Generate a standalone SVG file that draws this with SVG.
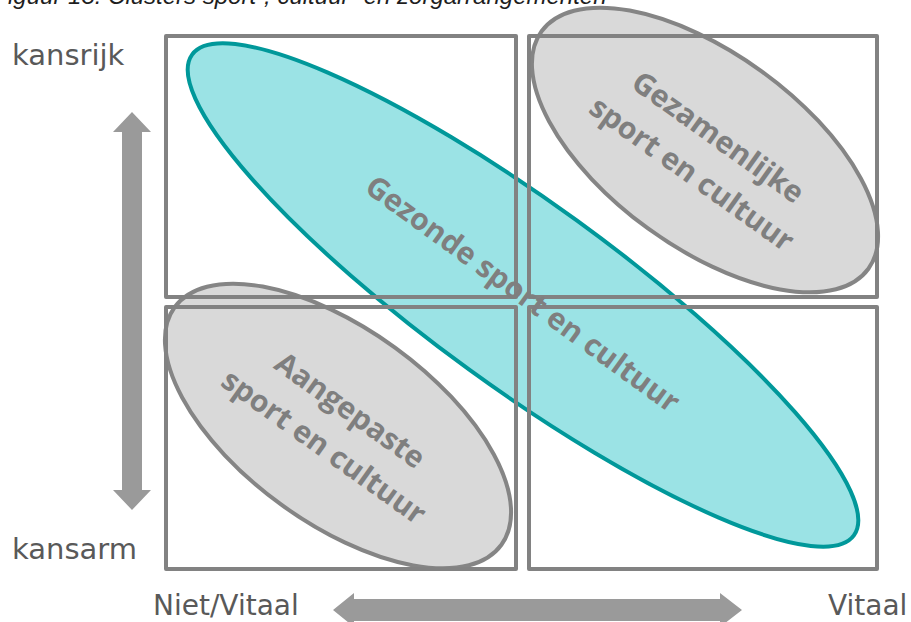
<svg xmlns="http://www.w3.org/2000/svg" width="911" height="622" viewBox="0 0 911 622">
  <style>
    .box { fill: none; stroke: #828282; stroke-width: 4; stroke-linejoin: round; }
    .grayell { fill: #d9d9d9; stroke: #858585; stroke-width: 4; }
    .cyanell { fill: #9be3e5; stroke: #00989a; stroke-width: 4; }
    .lbl { font-family: "Open Sans", "Noto Sans", sans-serif; font-weight: bold; font-size: 30px; fill: #7f7f7f; text-anchor: middle; }
    .axis { font-family: "DejaVu Sans", sans-serif; font-size: 29px; fill: #595959; }
    .axisb { font-family: "DejaVu Sans", sans-serif; font-size: 28px; fill: #595959; }
    .arrow { fill: #9a9a9a; }
    .caption { font-family: "Liberation Sans", Arial, sans-serif; font-style: italic; font-size: 24px; fill: #1e1e1e; }
  </style>
  <rect width="911" height="622" fill="#ffffff"/>

  <text class="caption" x="8" y="4">iguur 13: Clusters sport-, cultuur- en zorgarrangementen</text>

  <g id="ellipse-gezonde">
    <ellipse class="cyanell" cx="523" cy="295" rx="409" ry="92" transform="rotate(36 523 295)"/>
  </g>
  <g id="ellipse-gezamenlijke">
    <ellipse class="grayell" cx="705" cy="150" rx="202" ry="97" transform="rotate(36 705 150)"/>
  </g>
  <g id="ellipse-aangepaste">
    <ellipse class="grayell" cx="338" cy="426" rx="202" ry="97" transform="rotate(36 338 426)"/>
  </g>

  <g id="quadrants">
    <rect id="q-top-left" class="box" x="166" y="36" width="350" height="261"/>
    <rect id="q-top-right" class="box" x="529" y="36" width="348" height="261"/>
    <rect id="q-bottom-left" class="box" x="166" y="307" width="350" height="262"/>
    <rect id="q-bottom-right" class="box" x="529" y="307" width="348" height="262"/>
  </g>

  <g id="label-gezonde" transform="translate(522 295) rotate(36)">
    <text class="lbl" x="0" y="9">Gezonde sport en cultuur</text>
  </g>
  <g id="label-gezamenlijke" transform="translate(704 157) rotate(35.5)">
    <text class="lbl" x="0" y="-14">Gezamenlijke</text>
    <text class="lbl" x="0" y="31">sport en cultuur</text>
  </g>
  <g id="label-aangepaste" transform="translate(336 430) rotate(35.5)">
    <text class="lbl" x="0" y="-14">Aangepaste</text>
    <text class="lbl" x="0" y="31">sport en cultuur</text>
  </g>

  <g id="connectors">
    <polygon class="arrow" points="132,112 151,132 142,132 142,490 151,490 132,510 113,490 122,490 122,132 113,132"/>
    <polygon class="arrow" points="333,610 354,593 354,599 720,599 720,593 742,610 720,627 720,621 354,621 354,627"/>
  </g>

  <g id="axis-labels">
    <text class="axis" x="12" y="65">kansrijk</text>
    <text class="axis" x="12" y="559">kansarm</text>
    <text class="axisb" x="153" y="615">Niet/Vitaal</text>
    <text class="axisb" x="828" y="615">Vitaal</text>
  </g>
</svg>
